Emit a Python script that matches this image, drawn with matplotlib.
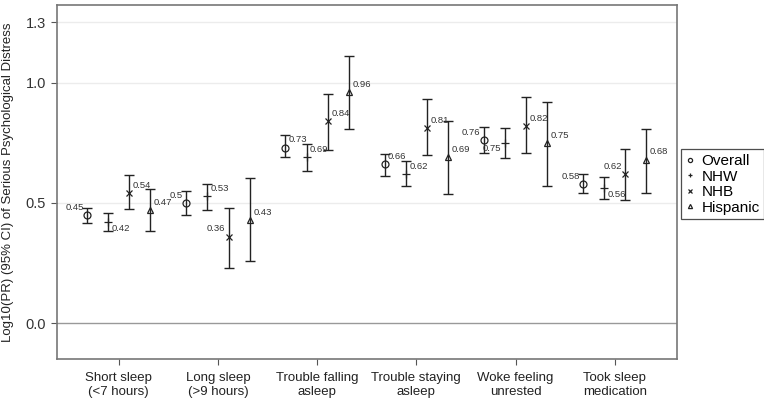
import matplotlib
matplotlib.use("Agg")
import matplotlib.pyplot as plt
import numpy as np

plt.rcParams["font.family"] = ["Liberation Sans", "DejaVu Sans"]

categories = ["Short sleep\n(<7 hours)", "Long sleep\n(>9 hours)", "Trouble falling\nasleep",
              "Trouble staying\nasleep", "Woke feeling\nunrested", "Took sleep\nmedication"]
series = ["Overall", "NHW", "NHB", "Hispanic"]

# log10(PR) point estimates and 95% CI bounds, per series, per category
est = {
    "Overall":  [0.45, 0.50, 0.73, 0.66, 0.76, 0.58],
    "NHW":      [0.42, 0.53, 0.69, 0.62, 0.75, 0.56],
    "NHB":      [0.54, 0.36, 0.84, 0.81, 0.82, 0.62],
    "Hispanic": [0.47, 0.43, 0.96, 0.69, 0.75, 0.68],
}
lower = {
    "Overall":  [0.417, 0.451, 0.690, 0.611, 0.708, 0.542],
    "NHW":      [0.385, 0.471, 0.634, 0.571, 0.688, 0.515],
    "NHB":      [0.474, 0.229, 0.719, 0.698, 0.708, 0.511],
    "Hispanic": [0.382, 0.260, 0.809, 0.539, 0.571, 0.542],
}
upper = {
    "Overall":  [0.478, 0.549, 0.783, 0.705, 0.816, 0.619],
    "NHW":      [0.460, 0.578, 0.744, 0.676, 0.813, 0.609],
    "NHB":      [0.616, 0.480, 0.953, 0.932, 0.941, 0.724],
    "Hispanic": [0.558, 0.604, 1.110, 0.841, 0.921, 0.809],
}
# which side of the marker the value label sits on, and whether above/below
label_side = {
    "Overall":  ["l", "l", "r", "r", "l", "l"],
    "NHW":      ["r", "r", "r", "r", "l", "r"],
    "NHB":      ["r", "l", "r", "r", "r", "l"],
    "Hispanic": ["r", "r", "r", "r", "r", "r"],
}
label_below = {
    "Overall":  [0, 0, 0, 0, 0, 0],
    "NHW":      [1, 0, 0, 0, 1, 1],
    "NHB":      [0, 0, 0, 0, 0, 0],
    "Hispanic": [0, 0, 0, 0, 0, 0],
}
yticks = [0.0, 0.5, 1.0, 1.25]
ytick_labels = ["0.0", "0.5", "1.0", "1.3"]

markers = {"Overall": "o", "NHW": "+", "NHB": "x", "Hispanic": "^"}
msize = {"Overall": 5, "NHW": 6, "NHB": 5, "Hispanic": 5}
INK = "#222222"

GROUP_STEP = 4.686

fig = plt.figure(figsize=(7.64, 4.01), dpi=100)
ax = fig.add_axes([0.0746, 0.105, 0.8115, 0.8825])

for s_i, s in enumerate(series):
    x = np.arange(len(categories)) * GROUP_STEP + s_i
    y = np.array(est[s])
    yerr = [y - np.array(lower[s]), np.array(upper[s]) - y]
    ax.errorbar(x, y, yerr=yerr, fmt="none", ecolor=INK, elinewidth=1.0,
                capsize=3.5, capthick=1.0, zorder=3)
    ax.plot(x, y, linestyle="none", marker=markers[s], markersize=msize[s],
            markerfacecolor="none", markeredgecolor=INK, markeredgewidth=0.9,
            color=INK, label=s, zorder=4)
    for xi, yi, side, below in zip(x, y, label_side[s], label_below[s]):
        dx = -2.5 if side == "l" else 2.5
        dy = -4.5 if below else 5.5
        ax.annotate(str(yi), (xi, yi), xytext=(dx, dy), textcoords="offset points",
                    ha="right" if side == "l" else "left", va="center",
                    fontsize=6.8, color="#333333", zorder=5)

ax.axhline(0.0, color="#999999", linewidth=1.0, zorder=1)
for t in yticks[1:]:
    ax.axhline(t, color="#ececec", linewidth=1.0, zorder=0)

ax.set_xlim(-1.417, 27.87)
ax.set_ylim(-0.148, 1.322)
ax.set_yticks(yticks)
ax.set_yticklabels(ytick_labels, fontsize=10.5)
# category ticks sit at the middle of each group of four
ax.set_xticks(np.arange(len(categories)) * GROUP_STEP + (len(series) - 1) / 2)
ax.set_xticklabels(categories, fontsize=9.5, linespacing=1.2)
ax.tick_params(axis="both", colors="#555555", length=4.5, width=0.8)
ax.tick_params(axis="x", labelcolor="#222222", pad=5)
ax.tick_params(axis="y", labelcolor="#333333")
for sp in ax.spines.values():
    sp.set_color("#777777")
    sp.set_linewidth(1.2)

ax.set_ylabel("Log10(PR) (95% CI) of Serious Psychological Distress",
              fontsize=9.5, color="#222222", labelpad=8)

leg = ax.legend(loc="upper left", bbox_to_anchor=(1.0065, 0.592), fontsize=11,
                frameon=True, fancybox=False, edgecolor="#222222",
                handlelength=0.6, handletextpad=0.45, borderpad=0.3,
                labelspacing=0.1, borderaxespad=0, markerscale=0.6)
leg.get_frame().set_linewidth(0.9)

fig.savefig("out.png", dpi=100)
